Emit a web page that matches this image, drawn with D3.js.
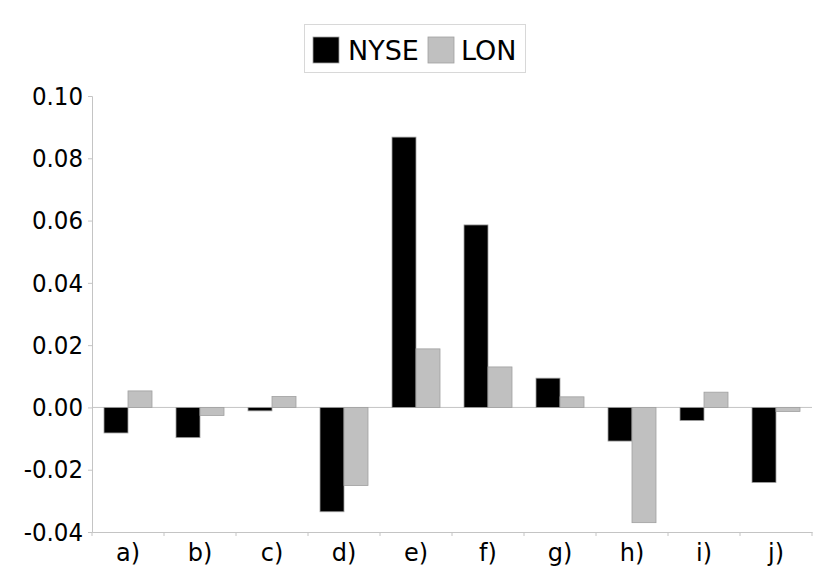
<!DOCTYPE html>
<html lang="en">
<head>
<meta charset="utf-8">
<title>NYSE vs LON</title>
<script src="https://d3js.org/d3.v7.min.js"></script>
<style>
  body { margin: 0; background: #fff; }
</style>
</head>
<body>
<script>
// data
var categories = ["a)", "b)", "c)", "d)", "e)", "f)", "g)", "h)", "i)", "j)"];
var seriesNames = ["NYSE", "LON"];
var nyse = [-0.0082, -0.0097, -0.0011, -0.0335, 0.0868, 0.0586, 0.0094, -0.0108, -0.0042, -0.0241];
var lon  = [0.0053, -0.0026, 0.0035, -0.0251, 0.0188, 0.0130, 0.0034, -0.0370, 0.0049, -0.0013];
var yTicks = [-0.04, -0.02, 0.00, 0.02, 0.04, 0.06, 0.08, 0.10];
var colors = ["#000000", "#c0c0c0"];

var w = 830, h = 583;
var plotLeft = 92, plotRight = 812, plotTop = 96, plotBottom = 532;

var svg = d3.select("body").append("svg")
    .attr("width", w)
    .attr("height", h);

var x = d3.scaleBand().domain(categories).range([plotLeft, plotRight]);
var x1 = d3.scaleBand().domain(seriesNames).range([0, x.bandwidth()]).paddingInner(0).paddingOuter(0.5);
var y = d3.scaleLinear().domain([-0.04, 0.10]).range([plotBottom, plotTop]);

var axisColor = "#c4c4c4";
// plain hyphen for negatives, like the original
var fmt = function(d) { return d3.format(".2f")(d).replace("\u2212", "-"); };

// zero line
svg.append("line")
    .attr("x1", plotLeft).attr("x2", plotRight)
    .attr("y1", y(0)).attr("y2", y(0))
    .attr("stroke", axisColor).attr("stroke-width", 1);

// y axis
var yAxis = svg.append("g")
    .attr("transform", "translate(" + plotLeft + ",0)")
    .call(d3.axisLeft(y).tickValues(yTicks).tickFormat(fmt).tickSize(4).tickPadding(5));
yAxis.select(".domain").attr("stroke", axisColor);
yAxis.selectAll(".tick line").attr("stroke", axisColor);
yAxis.selectAll("text")
    .attr("font-family", "'DejaVu Sans Condensed', 'DejaVu Sans', sans-serif")
    .attr("font-size", "25.5px")
    .attr("fill", "#000");

// x axis at bottom
var xAxis = svg.append("g")
    .attr("transform", "translate(0," + plotBottom + ")")
    .call(d3.axisBottom(x).tickSize(0).tickPadding(12));
xAxis.select(".domain").attr("stroke", axisColor);
xAxis.selectAll("text")
    .attr("font-family", "'DejaVu Sans', sans-serif")
    .attr("font-size", "24px")
    .attr("fill", "#000");
// boundary ticks between categories
svg.append("g").selectAll("line")
    .data(categories.concat(["end"]))
    .enter().append("line")
    .attr("x1", function(d, i) { return plotLeft + i * x.step(); })
    .attr("x2", function(d, i) { return plotLeft + i * x.step(); })
    .attr("y1", plotBottom)
    .attr("y2", plotBottom + 4)
    .attr("stroke", axisColor);

// bars
var rows = categories.map(function(c, i) { return { cat: c, vals: [nyse[i], lon[i]] }; });
var groups = svg.append("g").selectAll("g")
    .data(rows)
    .enter().append("g")
    .attr("transform", function(d) { return "translate(" + x(d.cat) + ",0)"; });

groups.selectAll("rect")
    .data(function(d) { return d.vals.map(function(v, j) { return { name: seriesNames[j], v: v, j: j }; }); })
    .enter().append("rect")
    .attr("x", function(d) { return x1(d.name); })
    .attr("width", x1.bandwidth())
    .attr("y", function(d) { return y(Math.max(0, d.v)); })
    .attr("height", function(d) { return Math.abs(y(d.v) - y(0)); })
    .attr("fill", function(d) { return colors[d.j]; })
    .attr("stroke", "#a0a0a0")
    .attr("stroke-width", 0.8);

// legend
var legend = svg.append("g");
legend.append("rect")
    .attr("x", 304.5).attr("y", 24.5)
    .attr("width", 221).attr("height", 48)
    .attr("fill", "#fff")
    .attr("stroke", "#d8d8d8");
var items = [
  { name: seriesNames[0], color: colors[0], sx: 313, tx: 348 },
  { name: seriesNames[1], color: colors[1], sx: 428, tx: 461 }
];
legend.selectAll("rect.sw")
    .data(items).enter().append("rect")
    .attr("class", "sw")
    .attr("x", function(d) { return d.sx; })
    .attr("y", 37)
    .attr("width", 26).attr("height", 26)
    .attr("fill", function(d) { return d.color; })
    .attr("stroke", "#a0a0a0")
    .attr("stroke-width", 0.8);
legend.selectAll("text")
    .data(items).enter().append("text")
    .attr("x", function(d) { return d.tx; })
    .attr("y", 60)
    .attr("font-family", "'DejaVu Sans', sans-serif")
    .attr("font-size", "27px")
    .attr("fill", "#000")
    .text(function(d) { return d.name; });
</script>
</body>
</html>
